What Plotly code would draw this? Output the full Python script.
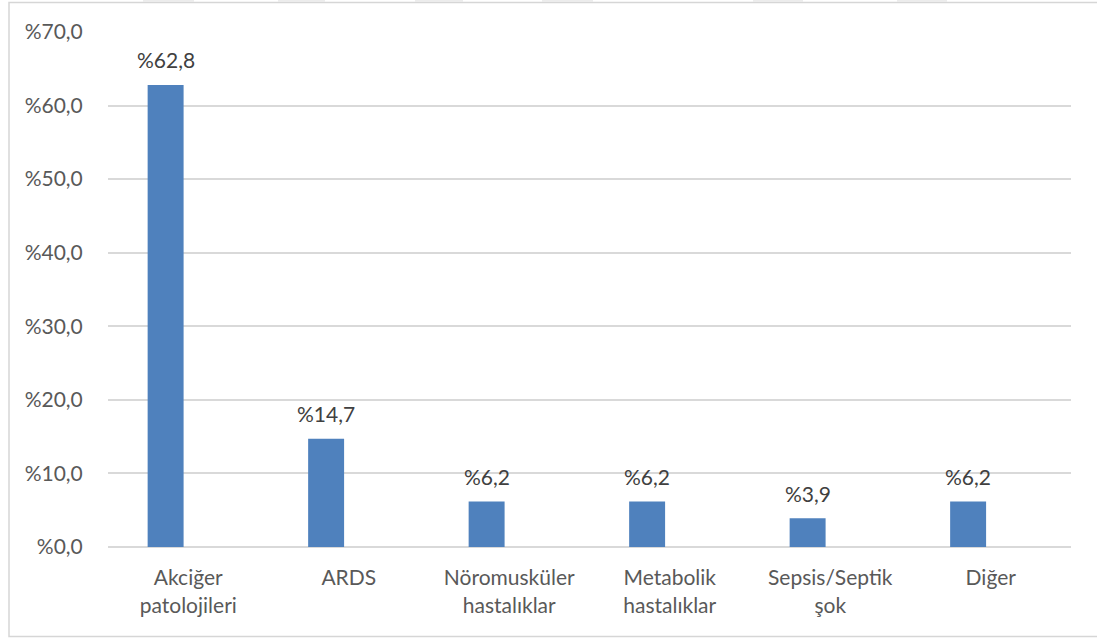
import plotly.graph_objects as go

# Share of patients by underlying cause (%)
categories = ["Akciğer<br>patolojileri", "ARDS", "Nöromusküler<br>hastalıklar",
              "Metabolik<br>hastalıklar", "Sepsis/Septik<br>şok", "Diğer"]
values = [62.8, 14.7, 6.2, 6.2, 3.9, 6.2]
y_tick_values = [0, 10, 20, 30, 40, 50, 60, 70]
y_tick_labels = ["%0,0", "%10,0", "%20,0", "%30,0", "%40,0", "%50,0", "%60,0", "%70,0"]

W, H = 1097, 638
M_L, M_R, M_T, M_B = 108, 26, 32, 91
FONT = "Lato, Calibri, Carlito, sans-serif"
BAR_COLOR = "#4F81BD"
GRID = "#d9d9d9"

# bar sits in the left half of each category slot
bar_width = 0.224
bar_offset = -0.253
plot_w = W - M_L - M_R
plot_h = H - M_T - M_B
slot_px = plot_w / len(categories)
label_shift = (bar_offset + bar_width / 2) * slot_px

fig = go.Figure()
fig.add_trace(go.Bar(
    x=categories, y=values,
    width=bar_width, offset=bar_offset,
    marker=dict(color=BAR_COLOR, line=dict(width=0)),
    hoverinfo="skip",
))

# value labels above each bar
for cat, v in zip(categories, values):
    fig.add_annotation(
        x=cat, y=v, xref="x", yref="y",
        text="%" + f"{v:.1f}".replace(".", ","),
        showarrow=False, xshift=label_shift, yshift=25,
        font=dict(family=FONT, size=21, color="#404040"),
    )

def px_x(px):
    return (px - M_L) / plot_w

def px_y(py):
    return (H - M_B - py) / plot_h

# outer chart frame
fig.add_shape(type="rect", xref="paper", yref="paper",
              x0=px_x(9), x1=px_x(1100), y0=px_y(636.5), y1=px_y(2.5),
              line=dict(color="#d6d6d6", width=1.5), fillcolor="rgba(0,0,0,0)", layer="below")

# faint marks along the top edge
for a, b in [(143, 194), (278, 325), (415, 463), (542, 593), (753, 803), (897, 947)]:
    fig.add_shape(type="rect", xref="paper", yref="paper",
                  x0=px_x(a), x1=px_x(b), y0=px_y(2), y1=px_y(0),
                  line=dict(width=0), fillcolor="#ececec", layer="below")

fig.update_layout(
    width=W, height=H,
    margin=dict(l=M_L, r=M_R, t=M_T, b=M_B, pad=0),
    paper_bgcolor="white", plot_bgcolor="white",
    showlegend=False,
    font=dict(family=FONT, size=21, color="#595959"),
    xaxis=dict(
        type="category", showgrid=False, showline=False, zeroline=False,
        ticks="outside", ticklen=12, tickcolor="rgba(0,0,0,0)",
        tickfont=dict(family=FONT, size=21, color="#595959"),
        fixedrange=True,
    ),
    yaxis=dict(
        range=[0, 70], tickvals=y_tick_values, ticktext=y_tick_labels,
        showgrid=True, gridcolor=GRID, gridwidth=1.5,
        zeroline=True, zerolinecolor=GRID, zerolinewidth=1.5,
        showline=False, ticks="outside", ticklen=20, tickcolor="rgba(0,0,0,0)",
        tickfont=dict(family=FONT, size=21, color="#595959"),
        fixedrange=True,
    ),
)

fig.write_html("out.html")
